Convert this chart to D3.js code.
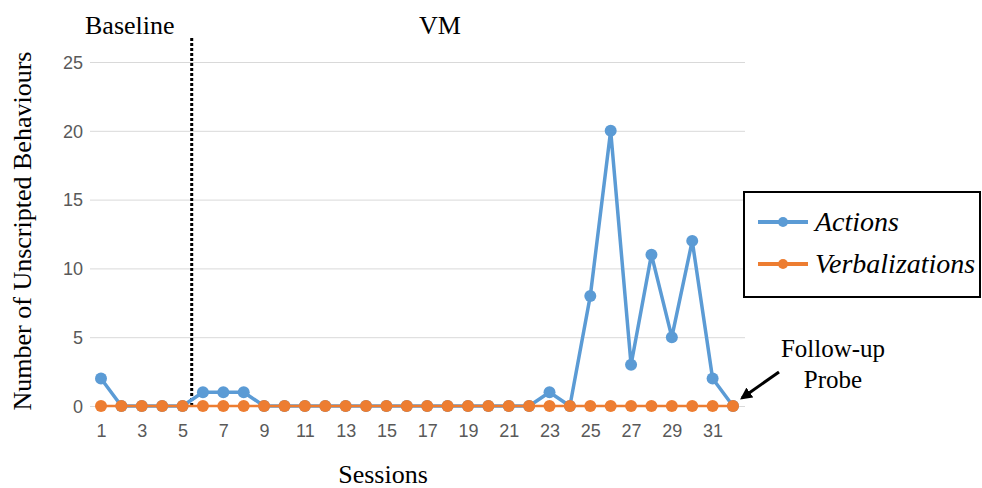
<!DOCTYPE html>
<html>
<head>
<meta charset="utf-8">
<script src="https://cdn.jsdelivr.net/npm/d3@7"></script>
<style>
  body { margin: 0; background: #fff; }
  svg { display: block; }
</style>
</head>
<body>
<svg width="982" height="488"></svg>
<script>
const sessions = d3.range(1, 33);
const actions = [2, 0, 0, 0, 0, 1, 1, 1, 0, 0, 0, 0, 0, 0, 0, 0, 0, 0, 0, 0, 0, 0, 1, 0, 8, 20, 3, 11, 5, 12, 2, 0];
const verbalizations = sessions.map(() => 0);
const yTicks = [0, 5, 10, 15, 20, 25];
const xTicks = d3.range(1, 33, 2);
const phaseAt = 5.45;

const blue = "#5b9bd5",
  orange = "#ed7d31";

const svg = d3.select("svg");
const serif = "'Liberation Serif', 'Times New Roman', serif";
const sans = "'Liberation Sans', Arial, sans-serif";

// scales
const xScale = d3.scaleLinear().domain([1, 32]).range([101, 733]);
const yScale = d3.scaleLinear().domain([0, 25]).range([406, 62]);

// gridlines
const grid = d3.axisLeft(yScale).tickValues(yTicks).tickSize(-655).tickFormat("");
svg.append("g")
  .attr("transform", "translate(90,0)")
  .call(grid)
  .call((g) => g.select(".domain").remove())
  .call((g) => g.selectAll("line").attr("stroke", "#d9d9d9"));

// y tick labels
const yAxis = d3.axisLeft(yScale).tickValues(yTicks).tickSize(0).tickPadding(0);
svg.append("g")
  .attr("transform", "translate(83,0)")
  .call(yAxis)
  .call((g) => g.select(".domain").remove())
  .call((g) => g.selectAll("text").attr("fill", "#595959").style("font", `18px ${sans}`).attr("dy", "0.35em"));

// x tick labels
const xAxis = d3.axisBottom(xScale).tickValues(xTicks).tickSize(0).tickPadding(0);
svg.append("g")
  .attr("transform", "translate(0,424)")
  .call(xAxis)
  .call((g) => g.select(".domain").remove())
  .call((g) => g.selectAll("text").attr("fill", "#595959").style("font", `18px ${sans}`).attr("dy", "0.7em"));

// phase change line
svg.append("line")
  .attr("x1", xScale(phaseAt)).attr("x2", xScale(phaseAt))
  .attr("y1", 38).attr("y2", yScale(0))
  .attr("stroke", "#000").attr("stroke-width", 3)
  .attr("stroke-dasharray", "3,2");

// series
function drawSeries(values, color, width) {
  const line = d3.line().x((d, i) => xScale(sessions[i])).y((d) => yScale(d));
  const g = svg.append("g");
  g.append("path")
    .datum(values)
    .attr("d", line)
    .attr("fill", "none")
    .attr("stroke", color)
    .attr("stroke-width", width)
    .attr("stroke-linejoin", "round");
  g.selectAll("circle")
    .data(values)
    .enter()
    .append("circle")
    .attr("cx", (d, i) => xScale(sessions[i]))
    .attr("cy", (d) => yScale(d))
    .attr("r", 6)
    .attr("fill", color);
}
drawSeries(actions, blue, 3.5);
drawSeries(verbalizations, orange, 2.5);

// texts
svg.append("text").attr("x", 85).attr("y", 34).text("Baseline")
  .style("font", `26px ${serif}`).attr("fill", "#000");
svg.append("text").attr("x", 440).attr("y", 34).attr("text-anchor", "middle").text("VM")
  .style("font", `26px ${serif}`).attr("fill", "#000");
svg.append("text").attr("x", 383).attr("y", 483).attr("text-anchor", "middle").text("Sessions")
  .style("font", `26px ${serif}`).attr("fill", "#000");
svg.append("text")
  .attr("transform", "translate(31,231) rotate(-90)")
  .attr("text-anchor", "middle")
  .text("Number of Unscripted Behaviours")
  .style("font", `26px ${serif}`).attr("fill", "#000");

// follow-up probe annotation
svg.append("text").attr("x", 833).attr("y", 357).attr("text-anchor", "middle").text("Follow-up")
  .style("font", `25px ${serif}`).attr("fill", "#000");
svg.append("text").attr("x", 833).attr("y", 388).attr("text-anchor", "middle").text("Probe")
  .style("font", `25px ${serif}`).attr("fill", "#000");
svg.append("defs").append("marker")
  .attr("id", "arrow").attr("viewBox", "0 0 10 10")
  .attr("refX", 8).attr("refY", 5)
  .attr("markerWidth", 4).attr("markerHeight", 4)
  .attr("orient", "auto")
  .append("path").attr("d", "M0,0L10,5L0,10z").attr("fill", "#000");
svg.append("line")
  .attr("x1", 779).attr("y1", 372).attr("x2", 742).attr("y2", 398)
  .attr("stroke", "#000").attr("stroke-width", 3)
  .attr("marker-end", "url(#arrow)");

// legend
const legend = svg.append("g");
legend.append("rect")
  .attr("x", 744).attr("y", 192).attr("width", 236).attr("height", 105)
  .attr("fill", "#fff").attr("stroke", "#000").attr("stroke-width", 2);
[["Actions", blue, 222], ["Verbalizations", orange, 264]].forEach(([name, color, y]) => {
  legend.append("line").attr("x1", 758).attr("x2", 808).attr("y1", y).attr("y2", y)
    .attr("stroke", color).attr("stroke-width", 4);
  legend.append("circle").attr("cx", 783).attr("cy", y).attr("r", 5).attr("fill", color);
  legend.append("text").attr("x", 815).attr("y", y + 9).text(name)
    .style("font", `italic 28px ${serif}`).attr("fill", "#000");
});
</script>
</body>
</html>
